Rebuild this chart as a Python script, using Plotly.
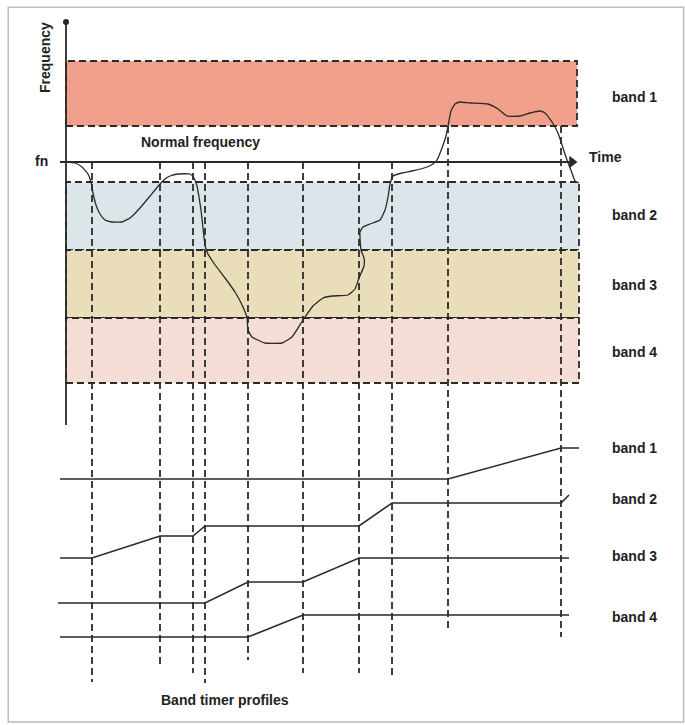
import plotly.graph_objects as go

# ---------------- data (time t from origin, frequency f relative to fn) ----------------
curve_t = [0, 9, 16, 22, 25, 27, 30, 34, 39, 46, 56, 64, 74, 84, 94, 99, 104, 112, 124, 128,
           131, 133, 135, 137, 139, 141, 147, 159, 169, 177, 181, 182, 186, 199, 216, 226, 237,
           247, 257, 266, 282, 289, 293, 298, 298, 295, 294, 297, 304, 314, 319, 322, 324, 327,
           336, 346, 361, 367, 371, 376, 380, 382, 385, 389, 394, 404, 422, 432, 441, 454, 464,
           474, 479, 486, 492, 497, 501, 506, 509, 513]
curve_f = [0, -1, -5, -12, -20, -31, -43, -52, -58, -60, -60, -56, -46, -34, -22, -17, -14, -12,
           -12, -16, -24, -35, -48, -66, -83, -90, -100, -116, -130, -145, -156, -168, -175, -181,
           -181, -175, -158, -144, -136, -134, -133, -127, -116, -104, -96, -88, -70, -65, -62,
           -58, -48, -35, -22, -14, -11, -9, -5, -2, 2, 14, 26, 36, 51, 58, 60, 59, 58, 53, 46,
           46, 49, 51, 49, 40, 29, 14, 2, -11, -19, -21]

band_names = ["band 1", "band 2", "band 3", "band 4"]
band_top = [101, -20, -88, -156]
band_bottom = [36, -88, -156, -221]
band_end = [511, 513, 513, 513]
band_colors = ["#F1A08C", "#DCE6EA", "#EADDB9", "#F3DDD5"]

event_t = [26, 94, 127, 139, 182, 237, 293, 326, 382, 495]
event_start = [0, 0, 0, 0, 0, 0, 0, 0, 36, 36]
event_end = [-520, -506, -511, -521, -498, -511, -511, -514, -470, -475]

timer_t = [
    [-6, 382, 495, 513],
    [-6, 26, 94, 127, 139, 293, 326, 495, 503],
    [-8, 139, 182, 237, 293, 503],
    [-6, 182, 237, 503],
]
timer_v = [
    [-317, -317, -286, -286],
    [-396, -396, -374, -374, -364, -364, -341, -341, -333],
    [-441, -441, -420, -420, -396, -396],
    [-475, -475, -453, -453],
]
timer_label_f = [-286, -337, -394, -455]
band_label_f = [65, -53, -123, -190]

axis_top = 140
axis_bottom = -263
time_axis_end = 513
fn_left = -6

# ---------------- figure ----------------
FONT = "Liberation Sans, Arial, sans-serif"
INK = "#2a2a2a"
DASH = "7px,4px"

fig = go.Figure()
shapes = []

# frame
shapes.append(dict(type="rect", xref="paper", yref="paper", x0=0.012, x1=0.998, y0=0.004, y1=0.99,
                   line=dict(color="#BDBDBD", width=1.5), fillcolor="rgba(0,0,0,0)", layer="below"))

# bands
for top, bot, end, col in zip(band_top, band_bottom, band_end, band_colors):
    shapes.append(dict(type="rect", x0=0, x1=end, y0=bot, y1=top, fillcolor=col,
                       line=dict(color=INK, width=1.8, dash=DASH), layer="below"))

# event dashed lines
for t, s, e in zip(event_t, event_start, event_end):
    shapes.append(dict(type="line", x0=t, x1=t, y0=s, y1=e,
                       line=dict(color=INK, width=1.8, dash=DASH)))

# axes
shapes.append(dict(type="line", x0=0, x1=0, y0=axis_top, y1=axis_bottom, line=dict(color=INK, width=1.8)))
shapes.append(dict(type="line", x0=fn_left, x1=time_axis_end - 4, y0=0, y1=0, line=dict(color=INK, width=1.8)))

fig.add_trace(go.Scatter(x=[0], y=[axis_top], mode="markers",
                         marker=dict(symbol="circle", size=6, color=INK), hoverinfo="skip"))
fig.add_trace(go.Scatter(x=[time_axis_end - 7], y=[0], mode="markers",
                         marker=dict(symbol="triangle-right", size=11, color=INK), hoverinfo="skip"))

# frequency curve
fig.add_trace(go.Scatter(x=curve_t, y=curve_f, mode="lines",
                         line=dict(color=INK, width=1.3, shape="spline", smoothing=0.4),
                         hoverinfo="skip"))

# timer profiles
for tt, vv in zip(timer_t, timer_v):
    fig.add_trace(go.Scatter(x=tt, y=vv, mode="lines", line=dict(color=INK, width=1.6),
                             hoverinfo="skip"))

ann = []
tf = dict(family=FONT, size=14, color="#222222", weight="bold")
for name, f in zip(band_names, band_label_f):
    ann.append(dict(x=544, y=f, text=name, showarrow=False, xanchor="left", yanchor="middle", font=tf))
for name, f in zip(band_names, timer_label_f):
    ann.append(dict(x=544, y=f, text=name, showarrow=False, xanchor="left", yanchor="middle", font=tf))
ann.append(dict(x=521, y=5, text="Time", showarrow=False, xanchor="left", yanchor="middle", font=tf))
ann.append(dict(x=-16, y=1, text="fn", showarrow=False, xanchor="right", yanchor="middle", font=tf))
ann.append(dict(x=134, y=20, text="Normal frequency", showarrow=False, xanchor="center", yanchor="middle", font=tf))
ann.append(dict(x=-21, y=104, text="Frequency", showarrow=False, xanchor="center", yanchor="middle",
                textangle=-90, font=tf))
ann.append(dict(x=159, y=-538, text="Band timer profiles", showarrow=False, xanchor="center", yanchor="middle", font=tf))

fig.update_layout(
    width=685, height=725,
    margin=dict(l=0, r=0, t=0, b=0),
    paper_bgcolor="white", plot_bgcolor="white",
    showlegend=False,
    shapes=shapes, annotations=ann,
    xaxis=dict(range=[-66, 619], visible=False, fixedrange=True),
    yaxis=dict(range=[-563, 162], visible=False, fixedrange=True),
)

fig.write_html("out.html", config={"displayModeBar": False},
               post_script="document.body.style.margin='0';document.body.style.padding='0';")
